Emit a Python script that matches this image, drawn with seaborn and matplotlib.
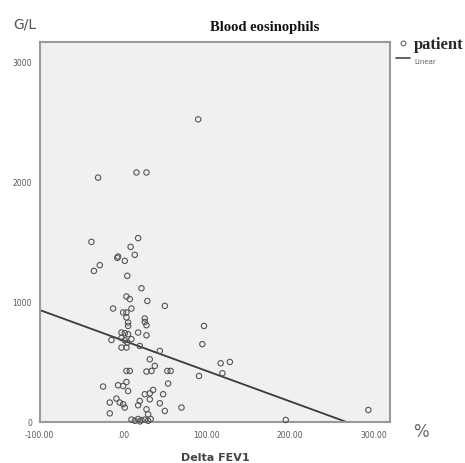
import matplotlib
matplotlib.use("Agg")
import matplotlib.pyplot as plt
import seaborn as sns
import numpy as np
import pandas as pd
from matplotlib.lines import Line2D

# ---- data ----
delta_fev1 = [90, -30, 16, 28, -38, 18, 9, 14, -6, -7, 2, -28, -35, 5, 22, 4, 8, 29, 50,
              -12, 10, 0, 4, 4, 6, 6, 26, 28, 26, -2, 2, 6, 18, 28, -14, -2, 2, 5, 10,
              -2, 4, 20, 44, 32, 38, 4, 8, 28, 34, 53, 57, 54, -24, -6, 0, 4, 6, 26, 32,
              36, 32, 48, 44, 20, 18, -16, -8, -4, 0, 2, -16, 28, 30, 50, 70,
              10, 14, 18, 22, 26, 30, 33, 20, 97, 95, 117, 128, 91, 119, 195, 294]
eosinophils = [2520, 2035, 2078, 2078, 1500, 1531, 1458, 1392, 1378, 1367, 1342, 1306, 1258,
               1217, 1114, 1045, 1023, 1008, 967, 945, 945, 912, 912, 870, 828, 800, 862,
               806, 833, 745, 739, 731, 745, 722, 683, 700, 680, 660, 690, 620, 620, 633,
               592, 522, 467, 425, 425, 420, 425, 425, 425, 320, 295, 306, 300, 333, 258,
               231, 239, 267, 189, 231, 156, 175, 139, 162, 195, 162, 148, 120, 72, 106,
               64, 92, 120, 20, 10, 25, 15, 20, 10, 25, 5, 800, 648, 489, 500, 383, 406,
               17, 100]
fit_intercept = 679.0
fit_slope = -2.535
x_ticks = [-100, 0, 100, 200, 300]
x_tick_labels = ["-100.00", ".00", "100.00", "200.00", "300.00"]
y_ticks = [0, 1000, 2000, 3000]
y_tick_labels = ["0", "1000", "2000", "3000"]
x_limits = [-100, 320]
y_limits = [0, 3167]

df = pd.DataFrame({"Delta FEV1": delta_fev1, "Eos": eosinophils})
fit_x = np.array(x_limits, dtype=float)
fit_df = pd.DataFrame({"x": fit_x, "y": fit_intercept + fit_slope * fit_x})

sns.set_style("white")
fig = plt.figure(figsize=(4.65, 4.64), dpi=100)
ax = fig.add_axes([0.0854, 0.0884, 0.7533, 0.8196])
ax.set_facecolor("#f0f0f0")

sns.scatterplot(data=df, x="Delta FEV1", y="Eos", ax=ax, marker="o", s=15,
                facecolor="none", edgecolor="#555555", linewidth=0.8, clip_on=False,
                zorder=3)
sns.lineplot(data=fit_df, x="x", y="y", ax=ax, color="#3a3a3a", linewidth=1.3, zorder=2)

ax.set_xlim(*x_limits)
ax.set_ylim(*y_limits)
ax.set_xticks(x_ticks)
ax.set_xticklabels(x_tick_labels)
ax.set_yticks(y_ticks)
ax.set_yticklabels(y_tick_labels)
ax.tick_params(axis="both", direction="out", length=4, width=1, color="#888888",
               labelsize=5.5, labelcolor="#555555", pad=1.5)
for s in ax.spines.values():
    s.set_color("#999999")
    s.set_linewidth(1.5)
ax.set_xlabel("")
ax.set_ylabel("")

fig.text(265 / 465, 1 - 28 / 464, "Blood eosinophils", ha="center", va="center",
         family="Liberation Serif", fontweight="bold", fontsize=10.5, color="#111111")
fig.text(13 / 465, 1 - 25 / 464, "G/L", ha="left", va="center",
         family="DejaVu Sans", fontsize=10, color="#555555")
fig.text(421 / 465, 1 - 432 / 464, "%", ha="center", va="center",
         family="DejaVu Sans", fontsize=12, color="#666666")
fig.text(215 / 465, 1 - 458 / 464, "Delta FEV1", ha="center", va="center",
         family="DejaVu Sans", fontweight="bold", fontsize=8, color="#444444")

handles = [Line2D([], [], marker="o", linestyle="none", markersize=3.5,
                  markerfacecolor="none", markeredgecolor="#666666", markeredgewidth=0.8),
           Line2D([], [], color="#555555", linewidth=1.3)]
leg = fig.legend(handles, ["patient", "Linear"], loc="upper left",
                 bbox_to_anchor=(396 / 465, 1 - 37 / 464), frameon=False,
                 handlelength=1.0, handletextpad=0.3, labelspacing=0.1,
                 borderpad=0, borderaxespad=0)
t0, t1 = leg.get_texts()
t0.set_fontfamily("Liberation Serif")
t0.set_fontweight("bold")
t0.set_fontsize(12)
t1.set_fontfamily("DejaVu Sans")
t1.set_fontsize(5)
t1.set_color("#666666")

fig.savefig("out.png", dpi=100)
